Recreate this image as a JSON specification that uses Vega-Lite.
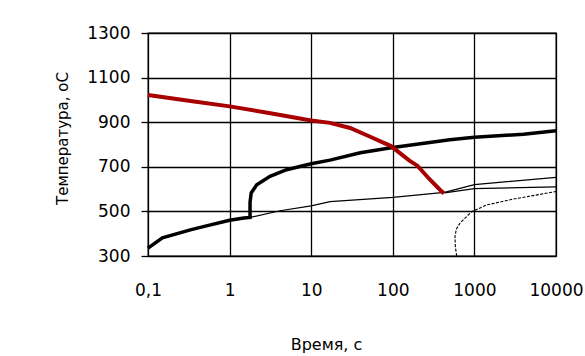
{
  "$schema": "https://vega.github.io/schema/vega-lite/v6.json",
  "autosize": {"type": "none"},
  "width": 408,
  "height": 223,
  "padding": {"left": 148, "top": 33, "right": 29, "bottom": 100},
  "background": "white",
  "config": {
    "view": {"stroke": "black", "strokeWidth": 1.3},
    "axis": {"labelFont": "DejaVu Sans", "titleFont": "DejaVu Sans", "labelColor": "black", "titleColor": "black", "titleFontWeight": "normal", "gridColor": "black", "gridWidth": 1.3, "gridOpacity": 1, "domain": false, "labelFlush": false, "labelOverlap": false}
  },
  "data": {"values": [
    {"s": "red", "i": 0, "t": 0.1, "T": 1022},
    {"s": "red", "i": 1, "t": 0.316, "T": 996},
    {"s": "red", "i": 2, "t": 1, "T": 971},
    {"s": "red", "i": 3, "t": 3.16, "T": 940},
    {"s": "red", "i": 4, "t": 10, "T": 908},
    {"s": "red", "i": 5, "t": 17, "T": 897},
    {"s": "red", "i": 6, "t": 30, "T": 874},
    {"s": "red", "i": 7, "t": 52, "T": 836},
    {"s": "red", "i": 8, "t": 95, "T": 793},
    {"s": "red", "i": 9, "t": 160, "T": 728},
    {"s": "red", "i": 10, "t": 200, "T": 705},
    {"s": "red", "i": 11, "t": 286, "T": 642},
    {"s": "red", "i": 12, "t": 378, "T": 597},
    {"s": "red", "i": 13, "t": 425, "T": 580},
    {"s": "black", "i": 0, "t": 0.1, "T": 335},
    {"s": "black", "i": 1, "t": 0.15, "T": 381},
    {"s": "black", "i": 2, "t": 0.33, "T": 417},
    {"s": "black", "i": 3, "t": 0.52, "T": 435},
    {"s": "black", "i": 4, "t": 1, "T": 460},
    {"s": "black", "i": 5, "t": 1.5, "T": 470},
    {"s": "black", "i": 6, "t": 1.78, "T": 473},
    {"s": "black", "i": 7, "t": 1.78, "T": 540},
    {"s": "black", "i": 8, "t": 1.84, "T": 583},
    {"s": "black", "i": 9, "t": 2.15, "T": 619},
    {"s": "black", "i": 10, "t": 3.13, "T": 657},
    {"s": "black", "i": 11, "t": 5, "T": 687},
    {"s": "black", "i": 12, "t": 10, "T": 714},
    {"s": "black", "i": 13, "t": 17, "T": 730},
    {"s": "black", "i": 14, "t": 40, "T": 763},
    {"s": "black", "i": 15, "t": 100, "T": 787},
    {"s": "black", "i": 16, "t": 500, "T": 821},
    {"s": "black", "i": 17, "t": 1000, "T": 832},
    {"s": "black", "i": 18, "t": 4000, "T": 846},
    {"s": "black", "i": 19, "t": 10000, "T": 862},
    {"s": "thinA", "i": 0, "t": 1.78, "T": 473},
    {"s": "thinA", "i": 1, "t": 4.15, "T": 503},
    {"s": "thinA", "i": 2, "t": 10, "T": 525},
    {"s": "thinA", "i": 3, "t": 17, "T": 544},
    {"s": "thinA", "i": 4, "t": 100, "T": 563},
    {"s": "thinA", "i": 5, "t": 430, "T": 585},
    {"s": "thinA", "i": 6, "t": 1000, "T": 620},
    {"s": "thinA", "i": 7, "t": 10000, "T": 653},
    {"s": "thinB", "i": 0, "t": 430, "T": 583},
    {"s": "thinB", "i": 1, "t": 1000, "T": 602},
    {"s": "thinB", "i": 2, "t": 10000, "T": 610},
    {"s": "dash", "i": 0, "t": 607, "T": 300},
    {"s": "dash", "i": 1, "t": 585, "T": 340},
    {"s": "dash", "i": 2, "t": 578, "T": 387},
    {"s": "dash", "i": 3, "t": 600, "T": 420},
    {"s": "dash", "i": 4, "t": 667, "T": 448},
    {"s": "dash", "i": 5, "t": 927, "T": 499},
    {"s": "dash", "i": 6, "t": 1416, "T": 529},
    {"s": "dash", "i": 7, "t": 2972, "T": 555},
    {"s": "dash", "i": 8, "t": 10000, "T": 589}
  ]},
  "encoding": {
    "x": {"field": "t", "type": "quantitative",
      "scale": {"type": "log", "domain": [0.1, 10000], "nice": false},
      "axis": {"values": [0.1, 1, 10, 100, 1000, 10000], "labelExpr": "datum.value < 1 ? '0,1' : format(datum.value, 'd')", "ticks": false, "tickSize": 0, "labelPadding": 26, "labelFontSize": 17, "title": "Время, с", "titleFontSize": 16, "titleX": 178, "titleY": 88, "titleBaseline": "middle", "titleAlign": "center"}},
    "y": {"field": "T", "type": "quantitative",
      "scale": {"domain": [300, 1300], "nice": false, "zero": false},
      "axis": {"values": [300, 500, 700, 900, 1100, 1300], "format": "d", "ticks": true, "tickSize": 7, "tickColor": "black", "tickWidth": 1.3, "labelPadding": 11, "labelFontSize": 17, "title": "Температура, оС", "titleFontSize": 15, "titleX": -86, "titleY": 105, "titleBaseline": "middle", "titleAlign": "center", "titleAngle": 270}},
    "order": {"field": "i", "type": "quantitative"},
    "detail": {"field": "s", "type": "nominal"}
  },
  "layer": [
    {"transform": [{"filter": "datum.s == 'thinA' || datum.s == 'thinB'"}],
     "mark": {"type": "line", "color": "black", "strokeWidth": 1.2}},
    {"transform": [{"filter": "datum.s == 'dash'"}],
     "mark": {"type": "line", "color": "black", "strokeWidth": 1.1, "strokeDash": [3, 1.5]}},
    {"transform": [{"filter": "datum.s == 'black'"}],
     "mark": {"type": "line", "color": "black", "strokeWidth": 3.5}},
    {"transform": [{"filter": "datum.s == 'red'"}],
     "mark": {"type": "line", "color": "#a80000", "strokeWidth": 4}}
  ]
}
